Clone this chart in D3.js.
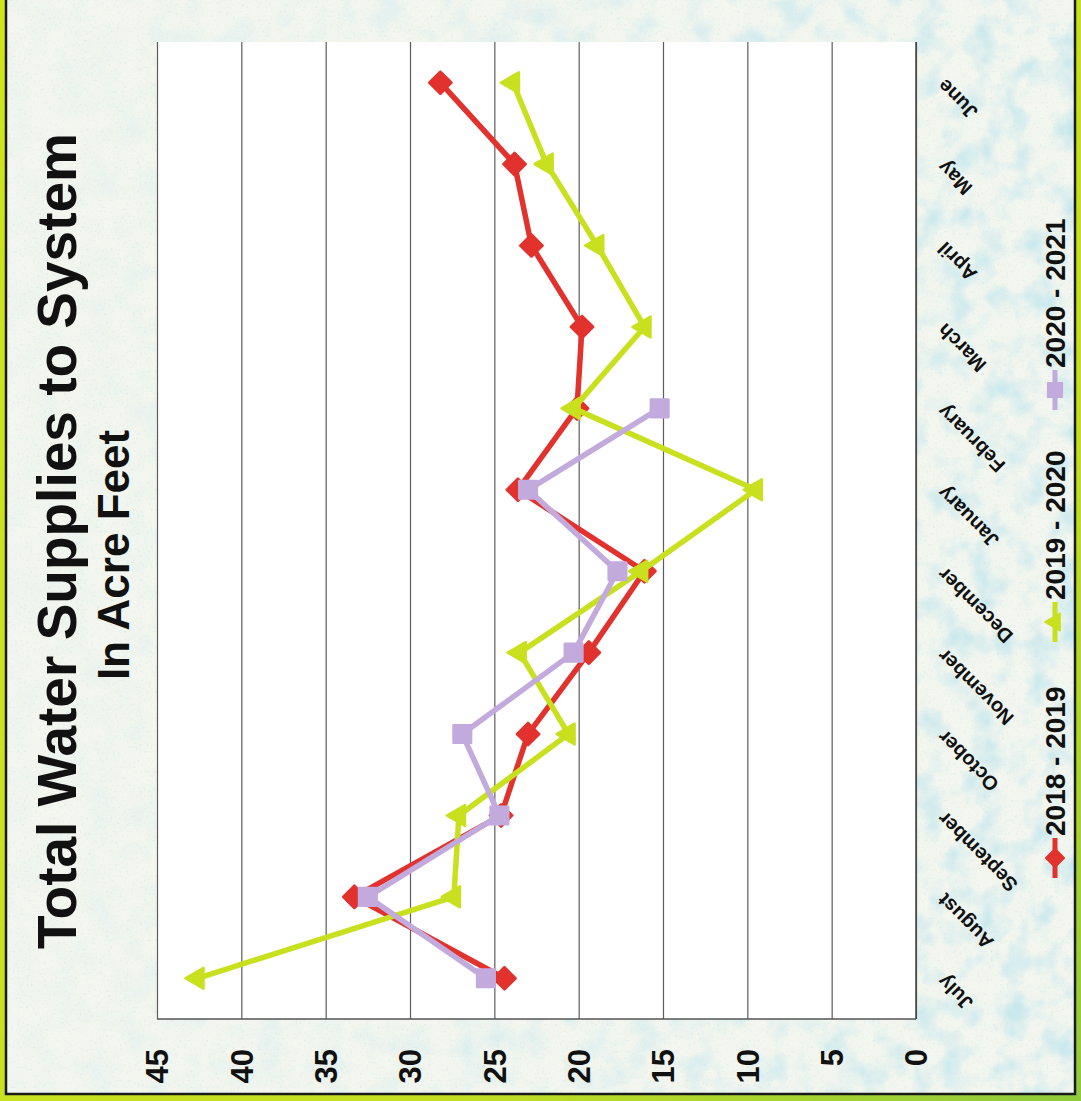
<!DOCTYPE html>
<html>
<head>
<meta charset="utf-8">
<script src="https://cdn.jsdelivr.net/npm/d3@7"></script>
<style>
  html, body { margin: 0; padding: 0; background: #c9e11f; }
  svg { display: block; }
  text { font-family: "Liberation Sans", Arial, Helvetica, sans-serif; font-weight: bold; fill: #111; }
</style>
</head>
<body>
<script>
// Monthly water supplied to the system, in acre feet (fiscal year July–June)
const months = ["July", "August", "September", "October", "November", "December",
                "January", "February", "March", "April", "May", "June"];
const fy2018 = [24.4, 33.3, 24.6, 23.0, 19.4, 16.1, 23.6, 20.1, 19.8, 22.8, 23.8, 28.2];
const fy2019 = [42.6, 27.4, 27.1, 20.6, 23.5, 16.3, 9.5, 20.3, 16.1, 18.9, 21.9, 23.9];
const fy2020 = [25.5, 32.5, 24.7, 26.9, 20.3, 17.7, 23.0, 15.2, null, null, null, null];
const seriesNames = ["2018 - 2019", "2019 - 2020", "2020 - 2021"];
const valueTicks = [0, 5, 10, 15, 20, 25, 30, 35, 40, 45];
const titleText = "Total Water Supplies to System";
const subtitleText = "In Acre Feet";

const W = 1081, H = 1101;
const plot = { left: 157, right: 916, top: 42, bottom: 1019 };

const svg = d3.select("body").append("svg").attr("width", W).attr("height", H);
const defs = svg.append("defs");

// frame gradient
const fg = defs.append("linearGradient").attr("id", "frameGrad").attr("x1", 0).attr("y1", 0).attr("x2", 1).attr("y2", 1);
fg.append("stop").attr("offset", "0%").attr("stop-color", "#d0e51c");
fg.append("stop").attr("offset", "70%").attr("stop-color", "#c4df22");
fg.append("stop").attr("offset", "100%").attr("stop-color", "#8fcb3c");

// watery mottled texture
const tex = defs.append("filter").attr("id", "drops").attr("x", 0).attr("y", 0).attr("width", 1).attr("height", 1);
tex.append("feTurbulence").attr("type", "fractalNoise").attr("baseFrequency", "0.035").attr("numOctaves", 3).attr("seed", 7).attr("result", "n");
tex.append("feColorMatrix").attr("in", "n").attr("type", "matrix")
  .attr("values", "0 0 0 0 0.56  0 0 0 0 0.80  0 0 0 0 0.85  0 0 0 2.4 -1.05");
const speck = defs.append("filter").attr("id", "speck").attr("x", 0).attr("y", 0).attr("width", 1).attr("height", 1);
speck.append("feTurbulence").attr("type", "fractalNoise").attr("baseFrequency", "0.45").attr("numOctaves", 1).attr("seed", 3).attr("result", "n");
speck.append("feColorMatrix").attr("in", "n").attr("type", "matrix")
  .attr("values", "0 0 0 0 0.62  0 0 0 0 0.80  0 0 0 0 0.82  0 0 0 3 -1.75");

const mg = defs.append("linearGradient").attr("id", "texFade").attr("x1", 0).attr("y1", 0).attr("x2", 1).attr("y2", 0);
mg.append("stop").attr("offset", "0%").attr("stop-color", "#fff").attr("stop-opacity", 0.12);
mg.append("stop").attr("offset", "45%").attr("stop-color", "#fff").attr("stop-opacity", 0.45);
mg.append("stop").attr("offset", "100%").attr("stop-color", "#fff").attr("stop-opacity", 1);
defs.append("mask").attr("id", "texMask").append("rect")
  .attr("x", 0).attr("y", 0).attr("width", W).attr("height", H).attr("fill", "url(#texFade)");

// outer lime frame
svg.append("rect").attr("width", W).attr("height", H).attr("fill", "url(#frameGrad)");
// inner panel
svg.append("rect").attr("x", 6).attr("y", -6).attr("width", 1069).attr("height", 1100)
  .attr("fill", "#f3f6ef");
svg.append("rect").attr("x", 6).attr("y", -6).attr("width", 1069).attr("height", 1100)
  .attr("fill", "#fff").attr("filter", "url(#drops)").attr("mask", "url(#texMask)");
svg.append("rect").attr("x", 6).attr("y", -6).attr("width", 1069).attr("height", 1100)
  .attr("fill", "#fff").attr("filter", "url(#speck)").attr("opacity", 0.7);
svg.append("rect").attr("x", 6).attr("y", -6).attr("width", 1069).attr("height", 1100)
  .attr("fill", "none").attr("stroke", "#1a1a1a").attr("stroke-width", 2.5);

// scales: values run right-to-left, months bottom-to-top
const x = d3.scaleLinear().domain([0, 45]).range([plot.right, plot.left]);
const y = d3.scaleBand().domain(months).range([plot.bottom, plot.top]);
const yc = m => y(m) + y.bandwidth() / 2;

// plot area
svg.append("rect").attr("x", plot.left).attr("y", plot.top)
  .attr("width", plot.right - plot.left).attr("height", plot.bottom - plot.top).attr("fill", "#fff");

// value gridlines
const grid = svg.append("g").attr("transform", `translate(0,${plot.bottom})`)
  .call(d3.axisBottom(x).tickValues(valueTicks).tickSize(-(plot.bottom - plot.top)).tickFormat(""));
grid.select(".domain").remove();
grid.selectAll(".tick line").attr("stroke", "#5c5c5c").attr("stroke-width", 1.2);

// category axis line (bottom of plot) and zero line
svg.append("line").attr("x1", plot.left).attr("x2", plot.right).attr("y1", plot.bottom).attr("y2", plot.bottom)
  .attr("stroke", "#555").attr("stroke-width", 1.5);
svg.append("line").attr("x1", plot.right).attr("x2", plot.right).attr("y1", plot.top).attr("y2", plot.bottom)
  .attr("stroke", "#444").attr("stroke-width", 1.5);

// value tick labels
svg.append("g").selectAll("text").data(valueTicks).join("text")
  .attr("transform", d => `translate(${x(d)},1049) rotate(-90)`)
  .attr("text-anchor", "end").attr("dy", "0.36em")
  .style("font-size", "31px")
  .text(d => d);

// month labels
svg.append("g").selectAll("text").data(months).join("text")
  .attr("transform", d => `translate(941,${yc(d)}) rotate(-135)`)
  .attr("text-anchor", "end").attr("dy", "0.35em")
  .style("font-size", "20px")
  .text(d => d);

// series
const colors = ["#e2322e", "#c9e01e", "#c2abdc"];
const allSeries = [fy2018, fy2019, fy2020];
const markerSize = [250, 190, 310];
const markerType = [d3.symbolSquare, d3.symbolTriangle, d3.symbolSquare];
// diamond = square turned 45°, triangles point along the value direction
const markerRot = [45, -90, 0];

const line = d3.line()
  .defined(d => d.v != null)
  .x(d => x(d.v)).y(d => yc(d.m));

allSeries.forEach((vals, i) => {
  const pts = vals.map((v, k) => ({ m: months[k], v }));
  const g = svg.append("g");
  g.append("path").datum(pts).attr("d", line)
    .attr("fill", "none").attr("stroke", colors[i]).attr("stroke-width", 5.5)
    .attr("stroke-linejoin", "round");
  g.selectAll("path.mk").data(pts.filter(p => p.v != null)).join("path").attr("class", "mk")
    .attr("transform", p => `translate(${x(p.v)},${yc(p.m)}) rotate(${markerRot[i]})`)
    .attr("d", d3.symbol(markerType[i], markerSize[i]))
    .attr("fill", colors[i]).attr("stroke", colors[i]).attr("stroke-width", 2.5).attr("stroke-linejoin", "round");
});

// legend (right side, reading bottom-to-top)
const legendY = [858, 622, 390];
seriesNames.forEach((name, i) => {
  const g = svg.append("g");
  const cy = legendY[i], cx = 1055;
  g.append("line").attr("x1", cx).attr("x2", cx).attr("y1", cy + 20).attr("y2", cy - 20)
    .attr("stroke", colors[i]).attr("stroke-width", 5);
  g.append("path").attr("transform", `translate(${cx},${cy}) rotate(${markerRot[i]})`)
    .attr("d", d3.symbol(markerType[i], markerSize[i] * 0.7))
    .attr("fill", colors[i]).attr("stroke", colors[i]).attr("stroke-width", 1.5).attr("stroke-linejoin", "round");
  g.append("text").attr("transform", `translate(${cx},${cy - 22}) rotate(-90)`)
    .attr("dy", "0.36em").attr("text-anchor", "start")
    .style("font-size", "28px")
    .text(name);
});

// titles
svg.append("text").attr("transform", "translate(76,541) rotate(-90)")
  .attr("text-anchor", "middle").style("font-size", "55px").text(titleText);
svg.append("text").attr("transform", "translate(129,555) rotate(-90)")
  .attr("text-anchor", "middle").style("font-size", "44px").text(subtitleText);
</script>
</body>
</html>
